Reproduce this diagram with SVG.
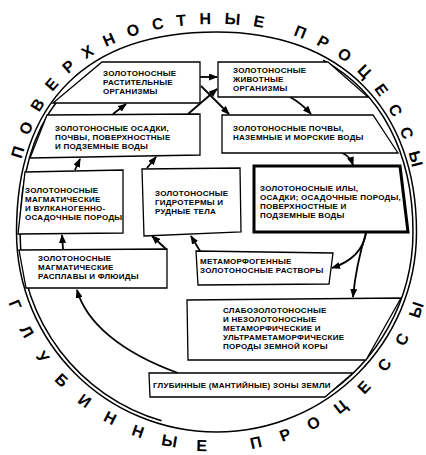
<svg xmlns="http://www.w3.org/2000/svg" width="426" height="455" viewBox="0 0 426 455">
<style>
.bx{fill:#fff;stroke:#000;stroke-width:1.3;stroke-linejoin:miter}
.bxb{fill:#fff;stroke:#000;stroke-width:3}
.t{font-family:"Liberation Sans",Arial,sans-serif;font-size:8px;font-weight:bold;letter-spacing:0.25px;fill:#000}
.ring{fill:none;stroke:#000;stroke-width:1.5}
.rt{font-family:"Liberation Sans",Arial,sans-serif;font-size:16px;font-weight:bold;fill:#000}
.c{fill:none;stroke:#000;stroke-width:1.8;marker-end:url(#ah)}
</style>
<defs>
<marker id="ah" markerUnits="userSpaceOnUse" markerWidth="9" markerHeight="7" refX="8" refY="3.5" orient="auto">
<path d="M0,0 L9,3.5 L0,7 z" fill="#000"/>
</marker>
<path id="topPath" d="M13.5,232 C13.5,97 84,24 216.5,24 C343,24 419.5,104 419.5,232"/>
<path id="botPath" d="M-3,232 C-3,353.2 95.3,451.5 216.5,451.5 C337.7,451.5 436,353.2 436,232"/>
</defs>
<rect width="426" height="455" fill="#fff"/>
<g id="ring">
<path class="ring" d="M16.5,232 C16.5,102 86.5,32 216.5,32 C340.5,32 416.5,108 416.5,232 C416.5,342.5 327,432 216.5,432 C106,432 16.5,342.5 16.5,232 Z"/>
<path class="ring" stroke-width="1" pathLength="400" stroke-dasharray="45 92 128 54 81" d="M20,232 C20,104.3 88.8,35.5 216.5,35.5 C338.3,35.5 413,110.2 413,232 C413,340.5 325,428.5 216.5,428.5 C108,428.5 20,340.5 20,232"/>
<text class="rt" letter-spacing="13"><textPath href="#topPath" startOffset="341" text-anchor="middle">ПОВЕРХНОСТНЫЕ ПРОЦЕССЫ</textPath></text>
<text class="rt" letter-spacing="20.1"><textPath href="#botPath" startOffset="354" text-anchor="middle">ГЛУБИННЫЕ ПРОЦЕССЫ</textPath></text>
</g>
<g id="connectors">
<path class="c" d="M200,77 L217,77"/>
<path class="c" d="M201,86 L229,114"/>
<path class="c" d="M188,114 L217,89"/>
<path class="c" d="M113,114 L126,104"/>
<path class="c" d="M290,97 Q301,103 311,114"/>
<path class="c" d="M342,153 Q350,156 353,165"/>
<path class="c" d="M75,170 L80,159"/>
<path class="c" d="M147,168 L156,157"/>
<path class="c" d="M63,249 L62,235"/>
<path class="c" d="M166,249 L152,236"/>
<path class="c" d="M200,251 L191,236"/>
<path class="c" d="M366,233 Q362,258 332,268"/>
<path class="c" d="M366,233 Q356,265 353,297"/>
<path class="c" stroke-width="2.6" d="M178,373 C120,352 86,322 77,290"/>
</g>
<g id="n-rast">
<polygon class="bx" points="102,62 200,62 200,103 53,103"/>
<text class="t"><tspan x="103" y="75.5">ЗОЛОТОНОСНЫЕ</tspan><tspan x="103" y="84.5">РАСТИТЕЛЬНЫЕ</tspan><tspan x="103" y="93.5">ОРГАНИЗМЫ</tspan></text>
</g>
<g id="n-zhiv">
<polygon class="bx" points="218,62 328,62 368,97 218,97"/>
<text class="t"><tspan x="233" y="73">ЗОЛОТОНОСНЫЕ</tspan><tspan x="233" y="82">ЖИВОТНЫЕ</tspan><tspan x="233" y="91">ОРГАНИЗМЫ</tspan></text>
</g>
<g id="n-osadki">
<polygon class="bx" points="47,115 200,114 200,155 30,158"/>
<text class="t"><tspan x="55" y="131">ЗОЛОТОНОСНЫЕ ОСАДКИ,</tspan><tspan x="55" y="140">ПОЧВЫ, ПОВЕРХНОСТНЫЕ</tspan><tspan x="55" y="149">И ПОДЗЕМНЫЕ ВОДЫ</tspan></text>
</g>
<g id="n-pochvy">
<polygon class="bx" points="222,115 373,115 398,153 222,153"/>
<text class="t"><tspan x="233" y="131">ЗОЛОТОНОСНЫЕ ПОЧВЫ,</tspan><tspan x="233" y="140">НАЗЕМНЫЕ И МОРСКИЕ ВОДЫ</tspan></text>
</g>
<g id="n-ily">
<polygon class="bxb" points="254,166 400,166 408,232 254,232"/>
<text class="t"><tspan x="260" y="190.5">ЗОЛОТОНОСНЫЕ ИЛЫ,</tspan><tspan x="260" y="199.5">ОСАДКИ; ОСАДОЧНЫЕ ПОРОДЫ,</tspan><tspan x="260" y="208.5">ПОВЕРХНОСТНЫЕ И</tspan><tspan x="260" y="217.5">ПОДЗЕМНЫЕ ВОДЫ</tspan></text>
</g>
<g id="n-magm">
<polygon class="bx" points="25,172 123,170 123,233 18,234"/>
<text class="t"><tspan x="25" y="193">ЗОЛОТОНОСНЫЕ</tspan><tspan x="25" y="202">МАГМАТИЧЕСКИЕ</tspan><tspan x="25" y="211">И ВУЛКАНОГЕННО-</tspan><tspan x="25" y="220">ОСАДОЧНЫЕ ПОРОДЫ</tspan></text>
</g>
<g id="n-gidro">
<polygon class="bx" points="142,169 240,168 241,232 144,236"/>
<text class="t"><tspan x="155" y="196">ЗОЛОТОНОСНЫЕ</tspan><tspan x="155" y="205">ГИДРОТЕРМЫ И</tspan><tspan x="155" y="214">РУДНЫЕ ТЕЛА</tspan></text>
</g>
<g id="n-rasplavy">
<polygon class="bx" points="19,250 167,249 167,288 26,288"/>
<text class="t"><tspan x="38" y="261">ЗОЛОТОНОСНЫЕ</tspan><tspan x="38" y="270">МАГМАТИЧЕСКИЕ</tspan><tspan x="38" y="279">РАСПЛАВЫ И ФЛЮИДЫ</tspan></text>
</g>
<g id="n-rastvory">
<polygon class="bx" points="196,251 333,253 329,284 198,285"/>
<text class="t"><tspan x="200" y="264">МЕТАМОРФОГЕННЫЕ</tspan><tspan x="200" y="273">ЗОЛОТОНОСНЫЕ РАСТВОРЫ</tspan></text>
</g>
<g id="n-slabo">
<polygon class="bx" points="187,300 401,298 366,360 188,360"/>
<text class="t"><tspan x="223" y="313">СЛАБОЗОЛОТОНОСНЫЕ</tspan><tspan x="223" y="322">И НЕЗОЛОТОНОСНЫЕ</tspan><tspan x="223" y="331">МЕТАМОРФИЧЕСКИЕ И</tspan><tspan x="223" y="340">УЛЬТРАМЕТАМОРФИЧЕСКИЕ</tspan><tspan x="223" y="349">ПОРОДЫ ЗЕМНОЙ КОРЫ</tspan></text>
</g>
<g id="n-mantle">
<polygon class="bx" points="149,373 353,373 325,397 150,397"/>
<text class="t" x="153" y="388">ГЛУБИННЫЕ (МАНТИЙНЫЕ) ЗОНЫ ЗЕМЛИ</text>
</g>
</svg>
